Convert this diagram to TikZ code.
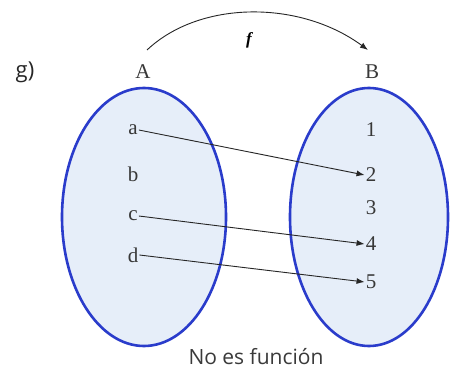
\documentclass[tikz,border=0pt]{standalone}
\usepackage{fontspec}
\setmainfont{Liberation Serif}
\newfontfamily\labelsans{Open Sans}
\usetikzlibrary{arrows.meta}
\definecolor{setfill}{HTML}{E6EEF9}
\definecolor{setedge}{HTML}{2A3CCB}
\definecolor{captiongray}{HTML}{3A3A3A}
\tikzset{
  setshape/.style={draw=setedge, fill=setfill, line width=2.6pt},
  elem/.style={font=\fontsize{21}{21}\selectfont, inner sep=1pt, text=black!78},
  maparrow/.style={-{Latex[length=8pt,width=6pt]}, line width=0.9pt, black!85},
}
\begin{document}
\begin{tikzpicture}[x=1pt,y=-1pt]
\useasboundingbox (0,0) rectangle (452,374);
\fill[white] (0,0) rectangle (452,374);
\draw[setshape] (144,217) ellipse [x radius=82, y radius=129];
\draw[setshape] (369,217) ellipse [x radius=79, y radius=129];
\node[font=\labelsans\fontsize{22}{22}\selectfont, text=black!85] (g) at (25,72) {g)};
\node[elem] (A) at (143,72) {A};
\node[elem] (B) at (372,72) {B};
\node[font=\bfseries\itshape\fontsize{17}{17}\selectfont] (f) at (249,40) {f};
\coordinate (fs) at (147,50);
\coordinate (fe) at (368,50);
\draw[maparrow] (fs) .. controls (200,0) and (300,0) .. (fe);
\node[elem] (a) at (133,130) {a};
\node[elem] (b) at (133,174) {b};
\node[elem] (c) at (133,216) {c};
\node[elem] (d) at (133,255) {d};
\node[elem] (n1) at (371,130) {1};
\node[elem] (n2) at (371,175) {2};
\node[elem] (n3) at (371,208) {3};
\node[elem] (n4) at (371,244) {4};
\node[elem] (n5) at (371,282) {5};
\draw[maparrow] (a.east) -- (n2.west);
\draw[maparrow] (c.east) -- (n4.west);
\draw[maparrow] (d.east) -- (n5.west);
\node[font=\labelsans\fontsize{21}{21}\selectfont, text=captiongray] (cap) at (256,357) {No es función};
\end{tikzpicture}
\end{document}
